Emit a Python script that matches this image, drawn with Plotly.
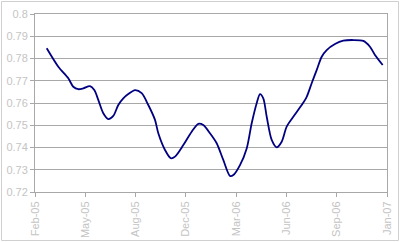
import plotly.graph_objects as go

# x positions in weeks from the first tick label
week = [3.26, 6.49, 9.27, 10.66, 12.05, 13.45, 15.31, 16.51, 17.62, 19.01, 20.41, 21.80,
        23.19, 24.58, 25.97, 27.84, 29.70, 31.54, 33.41, 34.33, 36.19, 37.78, 38.98,
        41.29, 43.62, 45.46, 46.85, 48.72, 50.58, 52.42, 54.29, 55.21, 57.07, 58.94,
        60.33, 61.72, 62.64, 63.56, 64.51, 65.90, 67.29, 68.68, 70.07, 71.91, 74.25,
        75.64, 77.03, 78.42, 79.82, 81.21, 83.52, 85.83, 88.61, 91.40, 93.26, 94.65, 96.80]
rate = [0.7846, 0.7763, 0.7711, 0.7673, 0.7662, 0.7666, 0.7676, 0.7658, 0.7614, 0.7554,
        0.7528, 0.7542, 0.7591, 0.7621, 0.7640, 0.7658, 0.7644, 0.7591, 0.7524, 0.7464,
        0.7389, 0.7352, 0.7359, 0.7411, 0.7471, 0.7506, 0.7501, 0.7464, 0.7419, 0.7344,
        0.7272, 0.7276, 0.7321, 0.7396, 0.7509, 0.7599, 0.7640, 0.7621, 0.7538, 0.7434,
        0.7401, 0.7426, 0.7494, 0.7538, 0.7591, 0.7628, 0.7689, 0.7748, 0.7808, 0.7838,
        0.7865, 0.7880, 0.7883, 0.7879, 0.7853, 0.7816, 0.7771]

x_tickvals = [0, 14, 28, 42, 56, 70, 84, 98]
x_ticklabels = ["Feb-05", "May-05", "Aug-05", "Dec-05", "Mar-06", "Jun-06", "Sep-06", "Jan-07"]
y_tickvals = [0.72, 0.73, 0.74, 0.75, 0.76, 0.77, 0.78, 0.79, 0.8]
y_ticklabels = ["0.72", "0.73", "0.74", "0.75", "0.76", "0.77", "0.78", "0.79", "0.8"]

fig = go.Figure()
fig.add_trace(go.Scatter(x=week, y=rate, mode="lines",
                         line=dict(color="#000080", width=1.8, shape="spline", smoothing=0.8),
                         hoverinfo="skip"))

L, R, T, B = 35, 13, 14, 50
W, H = 400, 242
pw, ph = W - L - R, H - T - B

fig.update_layout(
    width=W, height=H,
    margin=dict(l=L, r=R, t=T, b=B),
    paper_bgcolor="white", plot_bgcolor="white",
    showlegend=False,
    font=dict(family="Liberation Sans, Arial", size=11, color="#c4c4c4"),
    xaxis=dict(range=[0, 98], tickvals=x_tickvals, ticktext=x_ticklabels,
               tickangle=-90, showgrid=False, zeroline=False, automargin=False,
               showline=True, linecolor="#a8a8a8", linewidth=1, mirror=True,
               ticks="outside", ticklen=4, tickcolor="#a8a8a8",
               tickfont=dict(size=11, color="#c4c4c4")),
    yaxis=dict(range=[0.72, 0.8], tickvals=y_tickvals, ticktext=y_ticklabels,
               showgrid=True, gridcolor="#a8a8a8", gridwidth=1, zeroline=False,
               automargin=False,
               showline=True, linecolor="#a8a8a8", linewidth=1, mirror=True,
               ticks="outside", ticklen=4, tickcolor="#a8a8a8",
               tickfont=dict(size=11, color="#c4c4c4")),
)

# outer chart border
fig.add_shape(type="rect", xref="paper", yref="paper",
              x0=(1.5 - L) / pw, x1=(398.5 - L) / pw,
              y0=(T + ph - 240.5) / ph, y1=(T + ph - 1.5) / ph,
              line=dict(color="#d0d0d0", width=1), layer="below")

fig.write_html("out.html")
